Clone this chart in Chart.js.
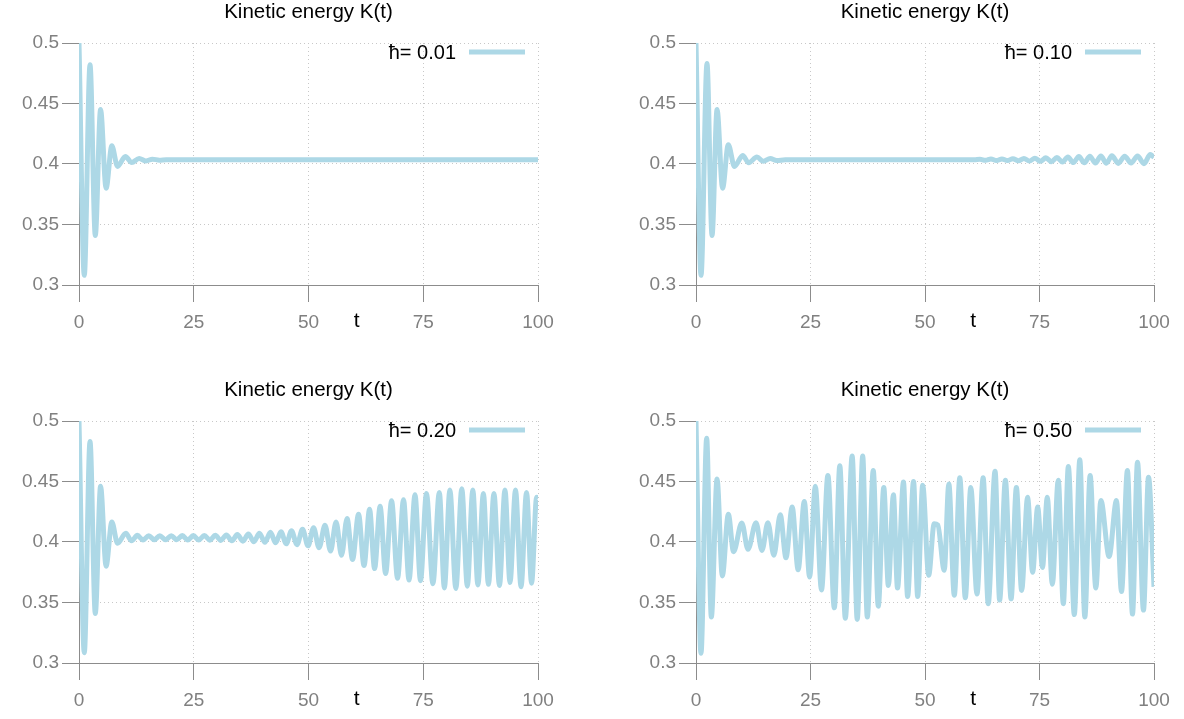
<!DOCTYPE html>
<html>
<head>
<meta charset="utf-8">
<title>Kinetic energy K(t)</title>
<script src="https://cdn.jsdelivr.net/npm/chart.js@4.4.1/dist/chart.umd.min.js"></script>
<style>
  html, body { margin: 0; padding: 0; background: #fff; }
  #wrap { position: relative; width: 1184px; height: 719px; overflow: hidden; }
  .panel { position: absolute; width: 592px; height: 341px; }
</style>
</head>
<body>
<div id="wrap">
  <div class="panel" style="left:0;top:0"><canvas id="c001"></canvas></div>
  <div class="panel" style="left:592px;top:0"><canvas id="c010"></canvas></div>
  <div class="panel" style="left:0;top:378px"><canvas id="c020"></canvas></div>
  <div class="panel" style="left:592px;top:378px"><canvas id="c050"></canvas></div>
</div>
<script>
// ── Data ────────────────────────────────────────────────────────────────────
const TITLE = 'Kinetic energy K(t)';
const X_LABEL = 't';
const X_TICKS = [0, 25, 50, 75, 100];
const Y_TICKS = [0.3, 0.35, 0.4, 0.45, 0.5];

// ħ = 0.01
const T_H001 = [0, 1.15, 2.4, 3.55, 4.7, 5.9, 7.15, 8.4, 10.1, 11.5, 13.1, 14.6, 16.0, 17.5, 19.0, 100];
const K_H001 = [0.500, 0.308, 0.482, 0.341, 0.445, 0.380, 0.415, 0.398, 0.4062, 0.4012, 0.4046, 0.4025, 0.4040, 0.4032, 0.4035, 0.4035];

// ħ = 0.10
const T_H010 = [0, 1.1, 2.4, 3.5, 4.6, 5.8, 7.05, 8.4, 10.2, 11.5, 13.3, 14.7, 16.2, 17.6, 19.5, 60.8,
  62.0, 63.2, 64.4, 65.6, 66.8, 68.0, 69.2, 70.4, 71.6, 72.8, 74.0, 75.2, 76.4, 77.6, 78.8, 80.0,
  81.2, 82.4, 83.6, 84.8, 86.0, 87.2, 88.4, 89.6, 90.8, 92.2, 93.6, 95.0, 96.4, 97.8, 99.2, 100];
const K_H010 = [0.500, 0.308, 0.483, 0.341, 0.445, 0.380, 0.416, 0.398, 0.407, 0.401, 0.4058, 0.4022, 0.4045, 0.4028, 0.4035, 0.4035,
  0.4040, 0.4030, 0.4041, 0.4029, 0.4042, 0.4028, 0.4044, 0.4026, 0.4046, 0.4024, 0.4048, 0.4022, 0.4051, 0.4019, 0.4054, 0.4016,
  0.4058, 0.4012, 0.4062, 0.4010, 0.4064, 0.4008, 0.4066, 0.4006, 0.4068, 0.4005, 0.4064, 0.4008, 0.4066, 0.4003, 0.4078, 0.4055];

// ħ = 0.20
const T_H020 = [0, 1.15, 2.4, 3.55, 4.7, 5.9, 7.15, 8.4,
  10.2, 11.45, 12.7, 13.95, 15.2, 16.4, 17.6, 18.85, 20.1, 21.3, 22.5, 23.7, 24.9, 26.1, 27.3, 28.5,
  29.7, 30.9, 32.1, 33.3, 34.5, 35.7, 36.9, 38.1, 39.3, 40.5, 41.7, 42.85, 44.0, 45.15,
  46.3, 47.5, 48.7, 49.9, 51.1, 52.3, 53.6, 54.8, 56.0, 57.2, 58.4, 59.6, 60.9, 62.1, 63.3, 64.4,
  65.6, 66.8, 68.1, 69.4, 70.7, 71.9, 73.2, 74.4, 75.7, 77.1, 78.5, 79.6, 80.8, 82.1, 83.4, 84.6,
  85.8, 86.9, 88.1, 89.2, 90.4, 91.6, 92.8, 93.9, 95.1, 96.3, 97.5, 98.6, 99.7, 100];
const K_H020 = [0.500, 0.3085, 0.483, 0.341, 0.446, 0.380, 0.4165, 0.399,
  0.4072, 0.4010, 0.4055, 0.4016, 0.4052, 0.4018, 0.4052, 0.4018, 0.4052, 0.4018, 0.4053, 0.4017, 0.4053, 0.4016, 0.4054, 0.4015,
  0.4056, 0.4013, 0.4058, 0.4010, 0.4062, 0.4007, 0.4066, 0.4003, 0.4072, 0.3998, 0.4080, 0.3993, 0.4085, 0.3985,
  0.4092, 0.3978, 0.4105, 0.3968, 0.4118, 0.3952, 0.4138, 0.3925, 0.4165, 0.3890, 0.4195, 0.3855, 0.4230, 0.3805, 0.4270, 0.3780,
  0.4295, 0.3740, 0.4340, 0.3700, 0.4350, 0.3685, 0.4390, 0.3680, 0.4400, 0.3655, 0.4410, 0.3620, 0.4430, 0.3615, 0.4440, 0.3635,
  0.4430, 0.3645, 0.4400, 0.3650, 0.4400, 0.3640, 0.4430, 0.3665, 0.4430, 0.3630, 0.4410, 0.3660, 0.4370, 0.4360];

// ħ = 0.50
const T_H050 = [0, 1.09, 2.33, 3.35, 4.6, 5.75, 7.06, 8.2, 10.0, 11.35, 13.1, 14.4, 15.7, 17.0, 18.4, 19.65,
  21.0, 22.3, 23.65, 24.8, 26.05, 27.4, 28.8, 30.2, 31.4, 32.6, 34.1, 35.2, 36.4, 37.4, 38.7, 39.8,
  41.0, 42.0, 43.1, 44.0, 45.3, 46.2, 47.5, 48.4, 49.5, 50.8, 52.0, 52.8, 54.2, 55.2, 56.4, 57.6,
  58.8, 60.0, 61.35, 62.7, 63.8, 65.3, 66.3, 67.55, 68.8, 69.95, 71.1, 72.4, 73.5, 74.6, 75.65, 76.7,
  77.8, 79.1, 80.2, 81.3, 82.6, 83.8, 84.9, 86.05, 87.3, 88.4, 90.2, 91.8, 92.9, 94.2, 95.3, 96.4,
  97.7, 98.8, 100];
const K_H050 = [0.500, 0.308, 0.4857, 0.338, 0.452, 0.372, 0.423, 0.392, 0.4157, 0.394, 0.416, 0.393, 0.416, 0.389, 0.4225, 0.387,
  0.429, 0.377, 0.4335, 0.371, 0.446, 0.3604, 0.455, 0.3456, 0.463, 0.337, 0.471, 0.336, 0.471, 0.338, 0.459, 0.347,
  0.445, 0.364, 0.439, 0.362, 0.4495, 0.355, 0.450, 0.355, 0.447, 0.3725, 0.415, 0.414, 0.3767, 0.448, 0.356, 0.453,
  0.354, 0.445, 0.357, 0.453, 0.349, 0.4585, 0.352, 0.451, 0.353, 0.445, 0.360, 0.437, 0.375, 0.429, 0.379, 0.437,
  0.365, 0.451, 0.349, 0.4624, 0.340, 0.468, 0.338, 0.455, 0.362, 0.4343, 0.388, 0.4343, 0.359, 0.459, 0.3404, 0.466,
  0.3437, 0.4536, 0.363];

// ── Style ────────────────────────────────────────────────────────────────────
const FONT = '"Liberation Sans", Arial, Helvetica, sans-serif';
const LINE_COLOR = '#add8e6';
const TICK_GRAY = '#808080';
const AXIS_GRAY = '#8c8c8c';
const GRID_GRAY = '#c8c8c8';
const T_LABEL_AT = 60.5;

// legend (text then line sample, inside the plot) and the inline "t" axis label
const panelDecor = {
    id: 'panelDecor',
    afterDatasetsDraw(chart) {
        const { ctx, chartArea, scales } = chart;
        const ds = chart.data.datasets[0];
        const y = chartArea.top + 9;
        const x2 = chartArea.right - 13;
        const x1 = x2 - 56;
        ctx.save();
        ctx.strokeStyle = ds.borderColor;
        ctx.lineWidth = 5;
        ctx.beginPath();
        ctx.moveTo(x1, y);
        ctx.lineTo(x2, y);
        ctx.stroke();
        ctx.fillStyle = '#000';
        ctx.font = '20px ' + FONT;
        ctx.textAlign = 'right';
        ctx.textBaseline = 'middle';
        ctx.fillText(ds.label, x1 - 13, y + 1);

        ctx.font = '21px ' + FONT;
        ctx.textAlign = 'center';
        ctx.fillText(X_LABEL, scales.x.getPixelForValue(T_LABEL_AT), chartArea.bottom + 36);
        ctx.restore();
    }
};

function makePanel(id, label, tVals, kVals, yAxisWidth, rightPad) {
    return new Chart(document.getElementById(id), {
        type: 'line',
        data: {
            datasets: [{
                label,
                data: tVals.map((t, i) => ({ x: t, y: kVals[i] })),
                borderColor: LINE_COLOR,
                backgroundColor: LINE_COLOR,
                borderWidth: 5,
                pointRadius: 0,
                cubicInterpolationMode: 'monotone',
                fill: false
            }]
        },
        options: {
            responsive: true,
            maintainAspectRatio: false,
            animation: false,
            events: [],
            layout: { padding: { left: 0, right: rightPad, top: 0, bottom: 0 } },
            plugins: {
                legend: { display: false },
                tooltip: { enabled: false },
                title: {
                    display: true,
                    text: TITLE,
                    fullSize: false,
                    color: '#000',
                    font: { family: FONT, size: 20.5, weight: 'normal' },
                    padding: { top: 0, bottom: 18.4 }
                }
            },
            scales: {
                x: {
                    type: 'linear',
                    min: 0, max: 100,
                    afterBuildTicks: s => { s.ticks = X_TICKS.map(v => ({ value: v })); },
                    afterFit: s => { s.height = 56; },
                    ticks: { color: TICK_GRAY, font: { family: FONT, size: 19 }, padding: 9.5, maxRotation: 0 },
                    grid: { color: GRID_GRAY, lineWidth: 1, tickColor: AXIS_GRAY, tickLength: 17, tickWidth: 1 },
                    border: { color: AXIS_GRAY, width: 1, dash: [1, 3] }
                },
                y: {
                    type: 'linear',
                    min: 0.3, max: 0.5,
                    afterBuildTicks: s => { s.ticks = Y_TICKS.map(v => ({ value: v })); },
                    afterFit: s => { s.width = yAxisWidth; },
                    ticks: {
                        color: TICK_GRAY, font: { family: FONT, size: 19 }, padding: 3,
                        callback: v => String(+v.toFixed(2))
                    },
                    grid: { color: GRID_GRAY, lineWidth: 1, tickColor: AXIS_GRAY, tickLength: 17, tickWidth: 1 },
                    border: { color: AXIS_GRAY, width: 1, dash: [1, 3] }
                }
            }
        },
        plugins: [panelDecor]
    });
}

makePanel('c001', 'ħ= 0.01', T_H001, K_H001, 79, 54);
makePanel('c010', 'ħ= 0.10', T_H010, K_H010, 104, 30);
makePanel('c020', 'ħ= 0.20', T_H020, K_H020, 79, 54);
makePanel('c050', 'ħ= 0.50', T_H050, K_H050, 104, 30);
</script>
</body>
</html>
